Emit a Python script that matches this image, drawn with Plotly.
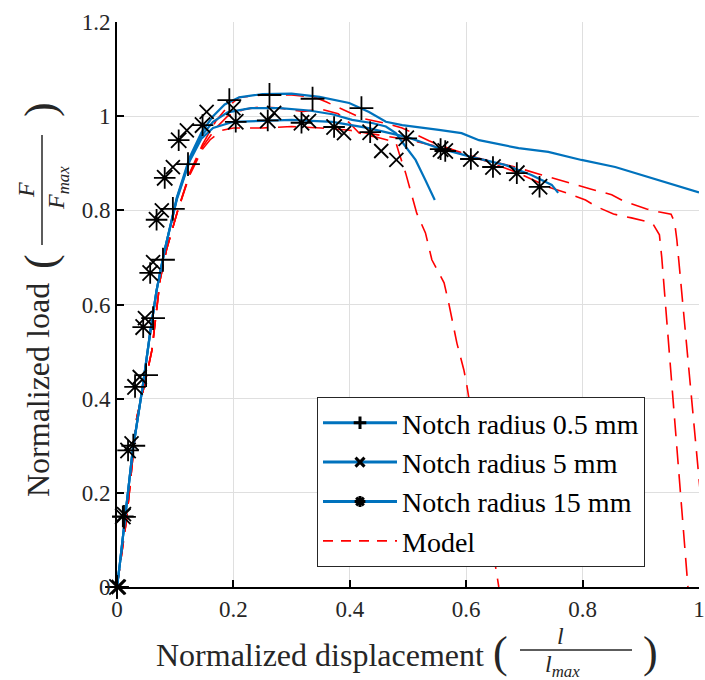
import plotly.graph_objects as go

# ---------------- data ----------------
# Experimental curves (normalized displacement, normalized load)
exp05_x = [0, 0.005, 0.027, 0.045, 0.057, 0.068, 0.082, 0.103, 0.125, 0.145, 0.165, 0.185, 0.21, 0.25, 0.30, 0.348,
           0.399, 0.433, 0.462, 0.49, 0.553, 0.592, 0.622, 0.69, 0.741, 0.798, 0.856, 0.913, 0.969, 1.0]
exp05_y = [0, 0.05, 0.29, 0.433, 0.54, 0.63, 0.716, 0.828, 0.913, 0.965, 1.0, 1.025, 1.04, 1.047, 1.048, 1.041,
           1.028, 1.009, 0.988, 0.981, 0.971, 0.964, 0.949, 0.932, 0.924, 0.907, 0.892, 0.871, 0.85, 0.838]

exp5_x = [0, 0.005, 0.027, 0.045, 0.057, 0.068, 0.082, 0.103, 0.125, 0.145, 0.165, 0.19, 0.23, 0.28, 0.33, 0.37,
          0.404, 0.44, 0.462, 0.479, 0.496, 0.513, 0.53, 0.546]
exp5_y = [0, 0.05, 0.29, 0.433, 0.54, 0.63, 0.716, 0.826, 0.908, 0.958, 0.988, 1.008, 1.017, 1.017, 1.012, 1.004,
          0.992, 0.985, 0.978, 0.964, 0.935, 0.907, 0.864, 0.822]

exp15_x = [0, 0.005, 0.027, 0.045, 0.057, 0.068, 0.082, 0.103, 0.125, 0.145, 0.165, 0.2, 0.25, 0.3, 0.37, 0.43,
           0.5, 0.553, 0.61, 0.668, 0.712, 0.747, 0.758]
exp15_y = [0, 0.05, 0.29, 0.433, 0.54, 0.63, 0.716, 0.824, 0.905, 0.952, 0.975, 0.988, 0.99, 0.992, 0.988, 0.975,
           0.955, 0.932, 0.913, 0.896, 0.875, 0.854, 0.837]

# Marker points of the experiments
mk05_x = [0, 0.012, 0.028, 0.05, 0.062, 0.079, 0.096, 0.122, 0.193, 0.262, 0.336, 0.42]
mk05_y = [0, 0.149, 0.30, 0.45, 0.571, 0.695, 0.803, 0.898, 1.034, 1.045, 1.037, 1.017]

mk5_x = [0.003, 0.012, 0.025, 0.039, 0.048, 0.062, 0.077, 0.096, 0.12, 0.154, 0.2, 0.27, 0.33, 0.39, 0.454, 0.48]
mk5_y = [0.0, 0.155, 0.305, 0.446, 0.571, 0.69, 0.80, 0.892, 0.97, 1.009, 1.017, 1.007, 0.99, 0.964, 0.926, 0.907]

mk15_x = [0, 0.01, 0.019, 0.031, 0.045, 0.057, 0.068, 0.082, 0.106, 0.147, 0.204, 0.259, 0.317, 0.373, 0.435, 0.497,
          0.556, 0.564, 0.608, 0.646, 0.687, 0.726]
mk15_y = [0, 0.15, 0.29, 0.425, 0.552, 0.667, 0.78, 0.869, 0.949, 0.981, 0.988, 0.991, 0.986, 0.977, 0.966, 0.953,
          0.93, 0.926, 0.909, 0.892, 0.879, 0.85]

# Model curves
mod05_x = [0, 0.017, 0.034, 0.048, 0.06, 0.074, 0.085, 0.103, 0.125, 0.147, 0.17, 0.19, 0.21, 0.25, 0.30, 0.34,
           0.36, 0.40, 0.42, 0.46, 0.49, 0.536, 0.553, 0.62, 0.69, 0.73, 0.754, 0.79, 0.815, 0.85, 0.87, 0.91,
           0.93, 0.952, 0.958, 0.962, 1.0, 1.017]
mod05_y = [0, 0.149, 0.36, 0.433, 0.503, 0.652, 0.716, 0.794, 0.88, 0.94, 0.99, 1.02, 1.04, 1.045, 1.045, 1.04,
           1.03, 1.007, 0.996, 0.985, 0.975, 0.948, 0.939, 0.911, 0.89, 0.875, 0.866, 0.854, 0.845, 0.833, 0.82, 0.803,
           0.797, 0.792, 0.775, 0.737, 0.23, 0.0]

mod5_x = [0, 0.017, 0.034, 0.048, 0.06, 0.074, 0.085, 0.103, 0.125, 0.147, 0.17, 0.19, 0.22, 0.25, 0.28, 0.32,
          0.35, 0.38, 0.40, 0.416, 0.45, 0.479, 0.485, 0.496, 0.515, 0.53, 0.541, 0.562, 0.57, 0.575, 0.584, 0.596,
          0.601, 0.656]
mod5_y = [0, 0.149, 0.36, 0.433, 0.503, 0.652, 0.716, 0.794, 0.878, 0.935, 0.975, 1.0, 1.015, 1.02, 1.017, 1.01,
          1.015, 1.005, 0.985, 0.964, 0.954, 0.945, 0.92, 0.879, 0.794, 0.752, 0.695, 0.646, 0.603, 0.574, 0.518,
          0.461, 0.429, 0.0]

mod15_x = [0, 0.017, 0.034, 0.048, 0.06, 0.074, 0.085, 0.103, 0.125, 0.147, 0.16, 0.18, 0.2, 0.25, 0.3, 0.35,
           0.4, 0.45, 0.5, 0.553, 0.638, 0.69, 0.74, 0.772, 0.805, 0.822, 0.853, 0.884, 0.92, 0.932, 0.936, 0.981]
mod15_y = [0, 0.149, 0.36, 0.433, 0.503, 0.652, 0.716, 0.794, 0.875, 0.93, 0.95, 0.97, 0.975, 0.975, 0.978, 0.975,
           0.97, 0.96, 0.95, 0.935, 0.903, 0.879, 0.85, 0.837, 0.822, 0.809, 0.792, 0.784, 0.773, 0.748, 0.70, 0.0]

x_ticks = [0, 0.2, 0.4, 0.6, 0.8, 1]
x_ticklabels = ["0", "0.2", "0.4", "0.6", "0.8", "1"]
y_ticks = [0, 0.2, 0.4, 0.6, 0.8, 1, 1.2]
y_ticklabels = ["0", "0.2", "0.4", "0.6", "0.8", "1", "1.2"]

legend_names = ["Notch radius 0.5 mm", "Notch radius 5 mm", "Notch radius 15 mm", "Model"]

# ---------------- figure ----------------
BLUE = "#0072BD"
RED = "#FF0000"
FONT = "Liberation Serif"
TXT = "#262626"
W, H = 705, 680
L, R, T, B = 117, 6, 22, 93

fig = go.Figure()

for xs, ys in [(mod05_x, mod05_y), (mod5_x, mod5_y), (mod15_x, mod15_y)]:
    fig.add_trace(go.Scatter(x=xs, y=ys, mode="lines", showlegend=False,
                             line=dict(color=RED, width=1.6, dash="18px,10px")))

for xs, ys in [(exp05_x, exp05_y), (exp5_x, exp5_y), (exp15_x, exp15_y)]:
    fig.add_trace(go.Scatter(x=xs, y=ys, mode="lines", showlegend=False,
                             line=dict(color=BLUE, width=2.2)))

for xs, ys, sym, sz in [(mk05_x, mk05_y, "cross-thin", 17), (mk5_x, mk5_y, "x-thin", 14),
                        (mk15_x, mk15_y, "asterisk", 18)]:
    fig.add_trace(go.Scatter(x=xs, y=ys, mode="markers", showlegend=False, cliponaxis=False,
                             marker=dict(symbol=sym, size=sz, color="black",
                                         line=dict(color="black", width=1.8))))

# legend-only entries
for name, sym in zip(legend_names[:3], ["cross-thin", "x-thin", "asterisk"]):
    fig.add_trace(go.Scatter(x=[None], y=[None], mode="lines+markers", name=name,
                             line=dict(color=BLUE, width=3),
                             marker=dict(symbol=sym, size=9, color="black",
                                         line=dict(color="black", width=3))))
fig.add_trace(go.Scatter(x=[None], y=[None], mode="lines", name=legend_names[3],
                         line=dict(color=RED, width=1.6, dash="10px,8px")))

axis_common = dict(showgrid=True, gridcolor="#dfdfdf", gridwidth=1, zeroline=False,
                   showline=True, linecolor="black", linewidth=2, ticks="inside", ticklen=7,
                   tickwidth=1.5, tickcolor="black", mirror=False, ticklabeloverflow="allow",
                   automargin=False, tickfont=dict(family=FONT, size=23, color=TXT))

fig.update_xaxes(range=[0, 1], tickvals=x_ticks, ticktext=x_ticklabels, **axis_common)
fig.update_yaxes(range=[0, 1.2], tickvals=y_ticks, ticktext=y_ticklabels, **axis_common)

pw, ph = W - L - R, H - T - B


def px(x):
    return (x - L) / pw


def py(y):
    return (H - B - y) / ph


def note(text, x, y, size, angle=0):
    return dict(text=text, x=px(x), y=py(y), xref="paper", yref="paper", xanchor="center",
                yanchor="middle", textangle=angle, showarrow=False,
                font=dict(family=FONT, size=size, color=TXT))


ann = []
shapes = []
# x-axis title
ann.append(note("Normalized displacement", 320, 655, 32))
ann.append(note("(", 500, 652, 44))
ann.append(note("<i>l</i>", 560, 636, 24))
ann.append(note("<i>l</i><sub><i>max</i></sub>", 562, 666, 24))
ann.append(note(")", 650, 652, 44))
shapes.append(dict(type="line", xref="paper", yref="paper", x0=px(520), x1=px(632), y0=py(650), y1=py(650),
                   line=dict(color=TXT, width=1.5)))
# y-axis title (rotated)
ann.append(note("Normalized load", 38, 390, 32, -90))
ann.append(note("(", 40, 262, 44, -90))
ann.append(note("<i>F</i>", 26, 190, 24, -90))
ann.append(note("<i>F</i><sub><i>max</i></sub>", 58, 188, 24, -90))
ann.append(note(")", 40, 110, 44, -90))
shapes.append(dict(type="line", xref="paper", yref="paper", x0=px(42), x1=px(42), y0=py(135), y1=py(245),
                   line=dict(color=TXT, width=1.5)))

fig.update_layout(
    width=W, height=H,
    margin=dict(l=L, r=R, t=T, b=B, autoexpand=False),
    plot_bgcolor="white", paper_bgcolor="white",
    font=dict(family=FONT, color="black"),
    annotations=ann, shapes=shapes,
    legend=dict(x=px(317), y=py(397), xanchor="left", yanchor="top",
                bgcolor="white", bordercolor=TXT, borderwidth=1,
                font=dict(family=FONT, size=28, color="black"),
                itemwidth=74, tracegroupgap=0, entrywidth=338, entrywidthmode="pixels"),
)

fig.write_html("out.html", config={"displayModeBar": False},
               post_script="document.body.style.margin='0';")
